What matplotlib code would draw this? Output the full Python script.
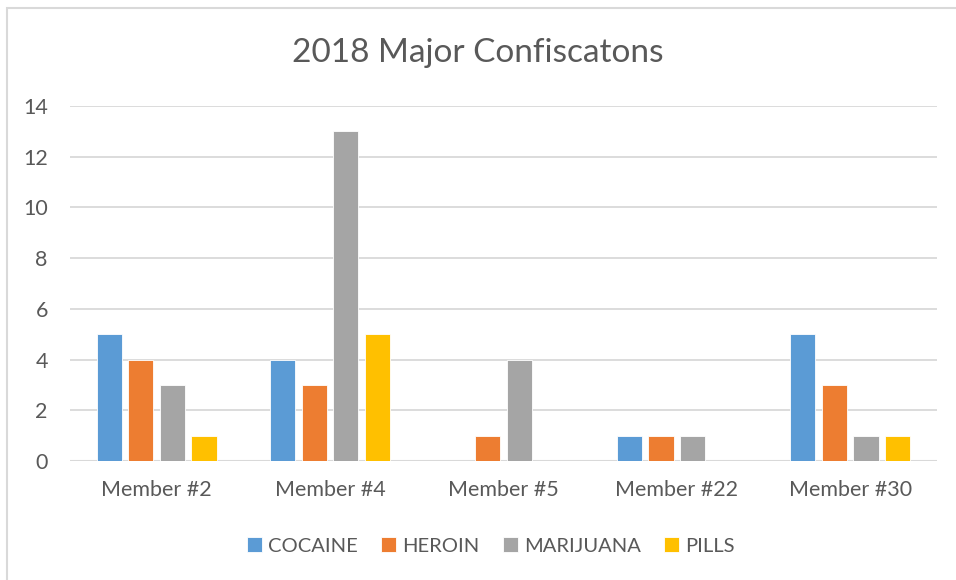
import numpy as np
import matplotlib.pyplot as plt
from matplotlib.patches import Rectangle

members = ["Member #2", "Member #4", "Member #5", "Member #22", "Member #30"]
drugs = ["COCAINE", "HEROIN", "MARIJUANA", "PILLS"]
cocaine = [5, 4, 0, 1, 5]
heroin = [4, 3, 1, 1, 3]
marijuana = [3, 13, 4, 1, 1]
pills = [1, 5, 0, 0, 1]
series = [cocaine, heroin, marijuana, pills]
colors = ["#5B9BD5", "#ED7D31", "#A5A5A5", "#FFC000"]

text_color = "#595959"
plt.rcParams["font.family"] = ["Lato", "DejaVu Sans"]

fig = plt.figure(figsize=(9.56, 5.8), dpi=100)
ax = fig.add_axes([0.0732, 0.2052, 0.9068, 0.612])

# light frame around the chart area
fig.patches.append(Rectangle((7 / 956, -0.1), 1.2, 1 - 8 / 580 + 0.1,
                             transform=fig.transFigure, fill=False,
                             edgecolor="#D9D9D9", linewidth=1.5))

x = np.arange(len(members))
width = 0.145
step = 0.182
for i, (vals, name, c) in enumerate(zip(series, drugs, colors)):
    offs = (i - 1.5) * step
    ax.bar(x + offs, vals, width, color=c, label=name,
           edgecolor="white", linewidth=0.6, zorder=3)

ax.set_xlim(-0.5, len(members) - 0.5)
ax.set_ylim(0, 14)
ax.set_yticks(range(0, 15, 2))
ax.set_xticks(x)
ax.set_xticklabels(members)
ax.yaxis.grid(True, color="#D9D9D9", linewidth=1.3, zorder=0)
for s in ax.spines.values():
    s.set_visible(False)
ax.axhline(0, color="#D9D9D9", linewidth=1.5, zorder=2)
ax.tick_params(length=0, labelsize=15.5, colors=text_color)
ax.tick_params(axis="y", pad=16)
ax.tick_params(axis="x", pad=14)

fig.text(0.5, 1 - 53 / 580, "2018 Major Confiscatons", ha="center",
         va="center", fontsize=24, color=text_color)

leg = fig.legend(loc="center", bbox_to_anchor=(491 / 956, 1 - 546 / 580),
                 ncol=4, frameon=False, fontsize=14.5, handlelength=0.75,
                 handleheight=0.75, handletextpad=0.3, columnspacing=1.15)
for t in leg.get_texts():
    t.set_color(text_color)

fig.savefig("out.png", dpi=100)
